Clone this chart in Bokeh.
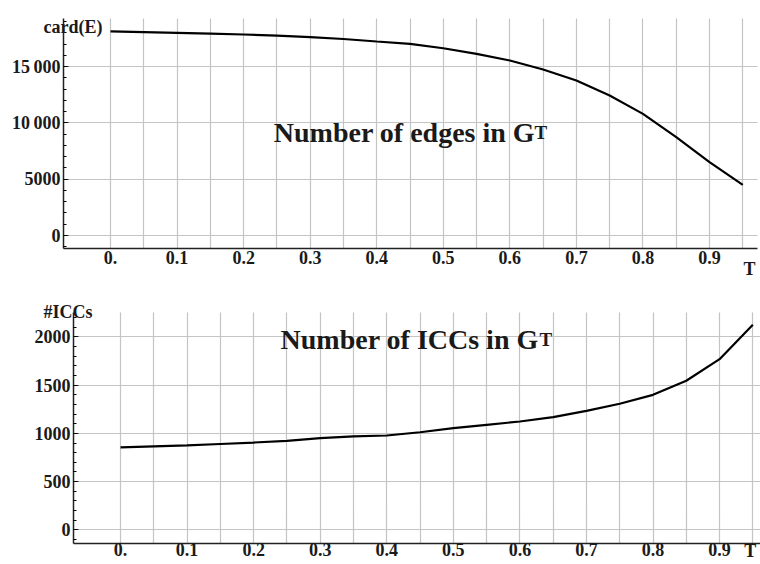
from bokeh.plotting import figure
from bokeh.layouts import column
from bokeh.models import FixedTicker, Label, Range1d
from bokeh.embed import file_html
from bokeh.resources import INLINE

# ---- data ----
T = [0.0, 0.05, 0.1, 0.15, 0.2, 0.25, 0.3, 0.35, 0.4, 0.45,
     0.5, 0.55, 0.6, 0.65, 0.7, 0.75, 0.8, 0.85, 0.9, 0.95]
edges = [18120, 18060, 18000, 17930, 17850, 17750, 17610, 17450, 17230, 17020,
         16630, 16130, 15540, 14740, 13760, 12430, 10800, 8730, 6510, 4500]
iccs = [854, 866, 876, 890, 905, 923, 950, 968, 978, 1012,
        1054, 1089, 1123, 1168, 1234, 1307, 1400, 1546, 1770, 2127]

x_ticks = [0.0, 0.1, 0.2, 0.3, 0.4, 0.5, 0.6, 0.7, 0.8, 0.9]
x_tick_labels = ["0.", "0.1", "0.2", "0.3", "0.4", "0.5", "0.6", "0.7", "0.8", "0.9"]
grid_x = [0.0, 0.05, 0.1, 0.15, 0.2, 0.25, 0.3, 0.35, 0.4, 0.45,
          0.5, 0.55, 0.6, 0.65, 0.7, 0.75, 0.8, 0.85, 0.9, 0.95]

edge_y_ticks = [0, 5000, 10000, 15000]
edge_y_tick_labels = ["0", "5000", "10\u2009000", "15\u2009000"]
edge_minor = list(range(-1000, 19001, 1000))

icc_y_ticks = [0, 500, 1000, 1500, 2000]
icc_y_tick_labels = ["0", "500", "1000", "1500", "2000"]
icc_minor = list(range(-100, 2201, 100))

FONT = "Liberation Serif"
W = 760
H = 282


def panel(y, view_x, view_y, plot_x, plot_y, yt, ytl, ymin, x_standoff,
          ylab, ylab_pos, tlab_pos, title, title_pos, sub_pos):
    p = figure(width=W, height=H, x_range=Range1d(*view_x), y_range=Range1d(*view_y),
               output_backend="svg", toolbar_location=None, min_border=0)
    p.outline_line_color = None
    p.background_fill_color = "white"
    p.border_fill_color = "white"

    p.xgrid.ticker = FixedTicker(ticks=grid_x)
    p.ygrid.ticker = FixedTicker(ticks=yt)
    p.xgrid.cross_bounds = plot_y
    p.ygrid.cross_bounds = plot_x
    for g in (p.xgrid, p.ygrid):
        g.grid_line_color = "#c4c4c4"
        g.grid_line_width = 1.2

    p.line(T, y, line_color="black", line_width=2.2)

    p.xaxis.fixed_location = plot_y[0]
    p.yaxis.fixed_location = plot_x[0]
    p.xaxis.bounds = plot_x
    p.yaxis.bounds = plot_y
    p.xaxis.ticker = FixedTicker(ticks=x_ticks)
    p.xaxis.major_label_overrides = dict(zip(x_ticks, x_tick_labels))
    p.yaxis.ticker = FixedTicker(ticks=yt, minor_ticks=ymin)
    p.yaxis.major_label_overrides = dict(zip(yt, ytl))
    for ax in (p.xaxis, p.yaxis):
        ax.axis_line_color = "#222222"
        ax.axis_line_width = 1.5
        ax.major_tick_line_color = "#222222"
        ax.major_tick_in = 5
        ax.major_tick_out = 0
        ax.minor_tick_in = 3
        ax.minor_tick_out = 0
        ax.major_label_text_font = FONT
        ax.major_label_text_font_style = "bold"
        ax.major_label_text_font_size = "18px"
        ax.major_label_text_color = "#1a1a1a"
        ax.major_label_standoff = 3
    p.xaxis.minor_tick_line_color = None
    p.xaxis.major_tick_line_color = None
    p.xaxis.major_label_standoff = x_standoff

    def lab(txt, pos, size):
        p.add_layout(Label(x=pos[0], y=pos[1], text=txt, text_font=FONT,
                           text_font_style="bold", text_font_size=size,
                           text_color="#1a1a1a", text_align="left",
                           text_baseline="alphabetic"))

    lab(ylab, ylab_pos, "18px")
    lab("T", tlab_pos, "18px")
    lab(title, title_pos, "28px")
    lab("T", sub_pos, "19px")
    return p


p1 = panel(edges, (-0.1653, 0.9766), (-4174, 20870),
           (-0.0706, 0.972), (-1150, 19270),
           edge_y_ticks, edge_y_tick_labels, edge_minor, 3,
           "card(E)", (-0.1007, 18560), (0.951, -2931),
           "Number of edges in G", (0.2453, 9147), (0.637, 9147))
p2 = panel(iccs, (-0.1803, 0.9615), (-360, 2565),
           (-0.0706, 0.9615), (-139, 2254),
           icc_y_ticks, icc_y_tick_labels, icc_minor, 0,
           "#ICCs", (-0.1157, 2264), (0.937, -215),
           "Number of ICCs in G", (0.2404, 1974), (0.6295, 1974))

layout = column(p1, p2, spacing=0)
open("out.html", "w").write(file_html(layout, INLINE))
